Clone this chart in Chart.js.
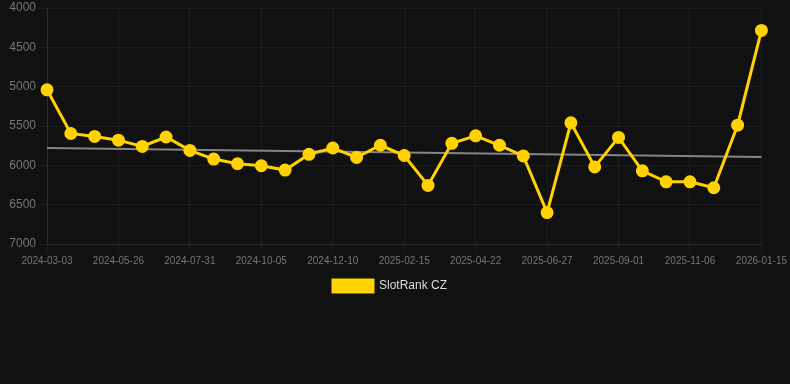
<!DOCTYPE html>
<html>
<head>
<meta charset="utf-8">
<script src="https://cdn.jsdelivr.net/npm/chart.js@4"></script>
<style>
  html, body { margin: 0; padding: 0; background: #111111; }
  #wrap { width: 790px; height: 384px; }
</style>
</head>
<body>
<div id="wrap"><canvas id="chart" width="790" height="384"></canvas></div>
<script>
// Dates (x axis categories)
const tanggal = [
    '2024-03-03', '2024-03-31', '2024-04-28', '2024-05-26', '2024-06-17', '2024-07-09',
    '2024-07-31', '2024-08-22', '2024-09-13', '2024-10-05', '2024-10-27', '2024-11-18',
    '2024-12-10', '2025-01-01', '2025-01-24', '2025-02-15', '2025-03-09', '2025-03-31',
    '2025-04-22', '2025-05-14', '2025-06-05', '2025-06-27', '2025-07-19', '2025-08-10',
    '2025-09-01', '2025-09-23', '2025-10-15', '2025-11-06', '2025-11-29', '2025-12-22',
    '2026-01-15'
];

// Rank values
const peringkat = [
    5040, 5595, 5633, 5680, 5760, 5640,
    5810, 5920, 5980, 6005, 6060, 5860,
    5780, 5900, 5745, 5875, 6255, 5720,
    5625, 5745, 5880, 6600, 5460, 6020,
    5645, 6070, 6210, 6210, 6285, 5490,
    4285
];

// Trend line end points
const trendAwal = 5780;
const trendAkhir = 5895;

const trendData = tanggal.map((t, i) => {
    if (i === 0) return trendAwal;
    if (i === tanggal.length - 1) return trendAkhir;
    return null;
});

Chart.defaults.font.family = "'Liberation Sans', Arial, Helvetica, sans-serif";

const ctx = document.getElementById('chart').getContext('2d');
const chart = new Chart(ctx, {
    type: 'line',
    data: {
        labels: tanggal,
        datasets: [
            {
                label: 'SlotRank CZ',
                data: peringkat,
                borderColor: '#ffd200',
                backgroundColor: '#ffd200',
                borderWidth: 3,
                pointRadius: 5,
                pointHoverRadius: 5,
                tension: 0,
            },
            {
                label: 'trend',
                data: trendData,
                borderColor: '#858585',
                borderWidth: 2,
                pointRadius: 0,
                spanGaps: true,
            },
        ],
    },
    options: {
        responsive: false,
        animation: false,
        layout: {
            padding: { left: 0, right: 10, top: 0, bottom: 82 },
        },
        scales: {
            x: {
                grid: { color: 'rgba(255,255,255,0.05)', tickColor: 'rgba(255,255,255,0.05)' },
                border: { color: 'rgba(255,255,255,0.08)' },
                ticks: {
                    color: '#777777',
                    font: { size: 10 },
                    maxRotation: 0,
                    autoSkip: true,
                    maxTicksLimit: 11,
                    callback: function (value, index) {
                        return index % 3 === 0 ? this.getLabelForValue(value) : null;
                    },
                },
            },
            y: {
                reverse: true,
                min: 4000,
                max: 7000,
                afterFit: (scale) => { scale.width = 47; scale.paddingTop = 6; },
                grid: { color: 'rgba(255,255,255,0.05)', tickColor: 'rgba(255,255,255,0.05)' },
                border: { color: 'rgba(255,255,255,0.08)' },
                ticks: {
                    stepSize: 500,
                    color: '#777777',
                    font: { size: 12, lineHeight: 1 },
                    callback: (value) => String(value),
                },
            },
        },
        plugins: {
            legend: {
                display: true,
                position: 'bottom',
                labels: {
                    color: '#dddddd',
                    font: { size: 12 },
                    boxWidth: 40,
                    boxHeight: 12,
                    filter: (item) => item.datasetIndex === 0,
                },
            },
            tooltip: { enabled: false },
        },
    },
});
</script>
</body>
</html>
